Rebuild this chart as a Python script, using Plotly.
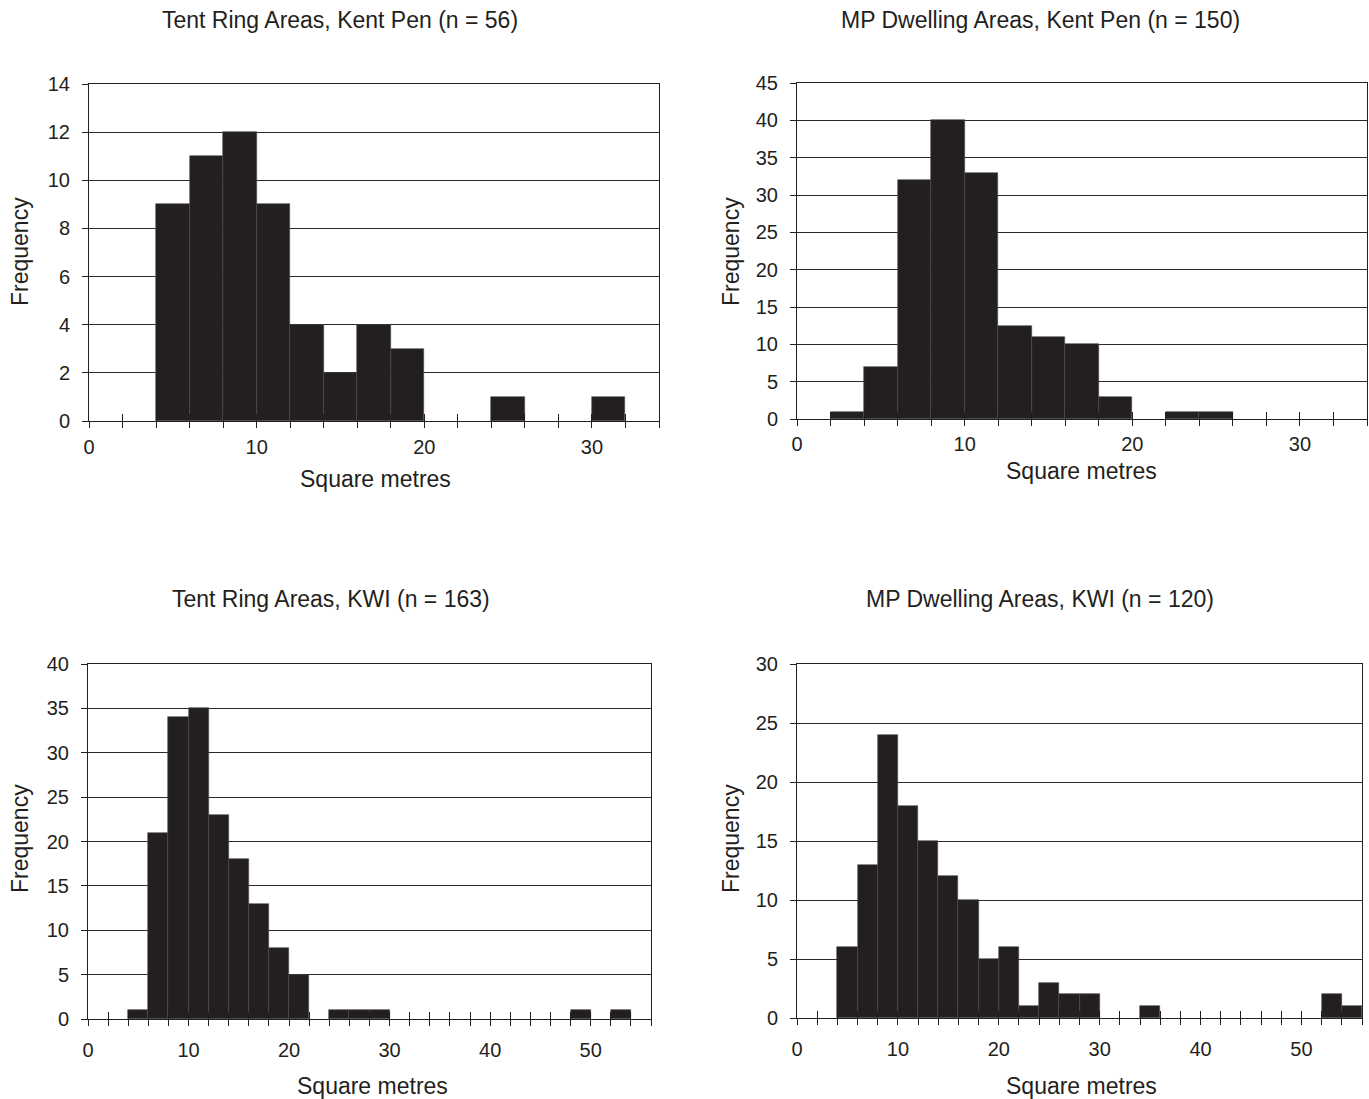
import plotly.graph_objects as go

W, H = 1369, 1099
INK = "#231f20"
FONT = "Liberation Sans, Arial, Helvetica, sans-serif"

# ---------------- data ----------------
bin_width = 2

p1_title = "Tent Ring Areas, Kent Pen (n = 56)"
p1_bins = [4, 6, 8, 10, 12, 14, 16, 18, 24, 30]
p1_counts = [9, 11, 12, 9, 4, 2, 4, 3, 1, 1]

p2_title = "MP Dwelling Areas, Kent Pen (n = 150)"
p2_bins = [2, 4, 6, 8, 10, 12, 14, 16, 18, 22, 24]
p2_counts = [1, 7, 32, 40, 33, 12.5, 11, 10, 3, 1, 1]

p3_title = "Tent Ring Areas, KWI (n = 163)"
p3_bins = [4, 6, 8, 10, 12, 14, 16, 18, 20, 24, 26, 28, 48, 52]
p3_counts = [1, 21, 34, 35, 23, 18, 13, 8, 5, 1, 1, 1, 1, 1]

p4_title = "MP Dwelling Areas, KWI (n = 120)"
p4_bins = [4, 6, 8, 10, 12, 14, 16, 18, 20, 22, 24, 26, 28, 34, 52, 54]
p4_counts = [6, 13, 24, 18, 15, 12, 10, 5, 6, 1, 3, 2, 2, 1, 2, 1]

x_title = "Square metres"
y_title = "Frequency"

# ---------------- layout geometry (pixels) ----------------
panels = [
    dict(title=p1_title, bins=p1_bins, counts=p1_counts, xmax=34, ymax=14, ydt=2,
         px=(89, 659), py=(84, 421), tpos=(340, 20), xt=(376, 479), yt=(20, 252), xstand=2),
    dict(title=p2_title, bins=p2_bins, counts=p2_counts, xmax=34, ymax=45, ydt=5,
         px=(797, 1367), py=(83, 419), tpos=(1040, 20), xt=(1081, 471), yt=(731, 252), xstand=1),
    dict(title=p3_title, bins=p3_bins, counts=p3_counts, xmax=56, ymax=40, ydt=5,
         px=(88, 651), py=(664, 1019), tpos=(331, 599), xt=(372, 1086), yt=(20, 839), xstand=7),
    dict(title=p4_title, bins=p4_bins, counts=p4_counts, xmax=56, ymax=30, ydt=5,
         px=(797, 1362), py=(664, 1018), tpos=(1040, 599), xt=(1081, 1086), yt=(731, 839), xstand=7),
]

fig = go.Figure()
layout = dict(
    template="none",
    width=W, height=H,
    autosize=False,
    margin=dict(l=0, r=0, t=0, b=0, pad=0, autoexpand=False),
    paper_bgcolor="white", plot_bgcolor="white",
    showlegend=False,
    font=dict(family=FONT, color=INK),
    bargap=0,
)
annotations = []

for i, p in enumerate(panels, start=1):
    sfx = "" if i == 1 else str(i)
    xref, yref = f"x{sfx}", f"y{sfx}"
    ov = i + 4
    xdom = [p["px"][0] / W, p["px"][1] / W]
    ydom = [1 - p["py"][1] / H, 1 - p["py"][0] / H]
    tickvals = list(range(0, p["xmax"] + 1, bin_width))
    ticktext = [str(v) if v % 10 == 0 else "" for v in tickvals]

    fig.add_trace(go.Bar(
        x=p["bins"], y=p["counts"], width=bin_width, offset=0,
        marker=dict(color=INK, line=dict(color="#4a4a4a", width=0.6)),
        xaxis=xref, yaxis=yref, hoverinfo="x+y",
    ))
    # helper trace so the inside-tick overlay axis is drawn
    fig.add_trace(go.Scatter(x=[None], y=[None], xaxis=f"x{ov}", yaxis=yref,
                             showlegend=False, hoverinfo="skip"))

    layout[f"xaxis{sfx}"] = dict(
        domain=xdom, range=[0, p["xmax"]], anchor=yref, automargin=False,
        tickmode="array", tickvals=tickvals, ticktext=ticktext,
        ticks="outside", ticklen=6, tickwidth=1, tickcolor=INK,
        ticklabelstandoff=p["xstand"],
        showline=True, linecolor=INK, linewidth=1, mirror=True,
        showgrid=False, zeroline=False,
        tickfont=dict(size=20, color=INK, family=FONT),
        fixedrange=True,
    )
    layout[f"xaxis{ov}"] = dict(
        overlaying=xref, anchor=yref, range=[0, p["xmax"]], automargin=False,
        tickmode="array", tickvals=tickvals,
        ticks="inside", ticklen=7, tickwidth=1, tickcolor=INK,
        showticklabels=False, showline=False, showgrid=False, zeroline=False,
        fixedrange=True,
    )
    layout[f"yaxis{sfx}"] = dict(
        domain=ydom, range=[0, p["ymax"]], anchor=xref, automargin=False,
        tickmode="linear", tick0=0, dtick=p["ydt"],
        ticks="outside", ticklen=6, tickwidth=1, tickcolor=INK,
        ticklabelstandoff=8,
        showline=True, linecolor=INK, linewidth=1, mirror=True,
        showgrid=True, gridcolor="#2a2a2a", gridwidth=1, zeroline=False,
        tickfont=dict(size=20, color=INK, family=FONT),
        fixedrange=True,
    )

    annotations.append(dict(text=p["title"], x=p["tpos"][0] / W, y=1 - p["tpos"][1] / H,
                            xref="paper", yref="paper", xanchor="center", yanchor="middle",
                            showarrow=False, font=dict(size=23, color=INK, family=FONT)))
    annotations.append(dict(text=x_title, x=p["xt"][0] / W, y=1 - p["xt"][1] / H,
                            xref="paper", yref="paper", xanchor="center", yanchor="middle",
                            showarrow=False, font=dict(size=23, color=INK, family=FONT)))
    annotations.append(dict(text=y_title, x=p["yt"][0] / W, y=1 - p["yt"][1] / H,
                            xref="paper", yref="paper", xanchor="center", yanchor="middle",
                            textangle=-90, showarrow=False,
                            font=dict(size=23, color=INK, family=FONT)))

layout["annotations"] = annotations
fig.update_layout(**layout)

# remove the browser's default page margin so the figure sits at the window origin
page_css_js = (
    "document.documentElement.style.margin='0';"
    "document.documentElement.style.padding='0';"
    "document.documentElement.style.overflow='hidden';"
    "document.body.style.margin='0';"
    "document.body.style.padding='0';"
    "document.body.style.overflow='hidden';"
)
fig.write_html("out.html", config={"displayModeBar": False}, post_script=page_css_js)
